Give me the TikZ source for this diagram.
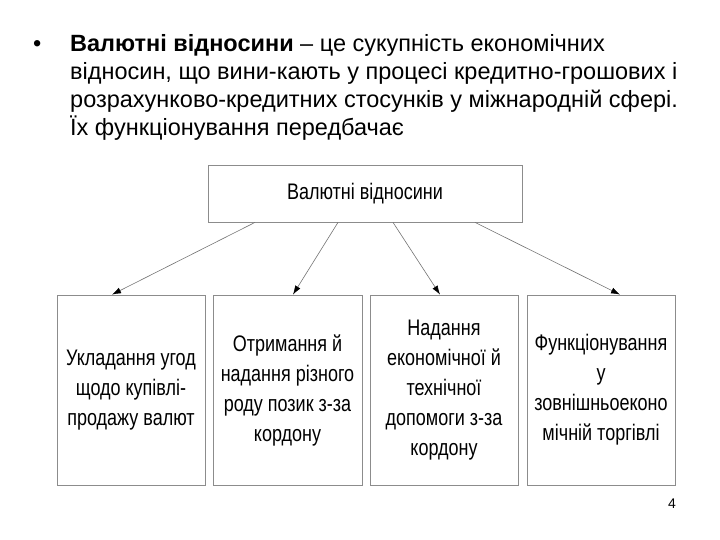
\documentclass[tikz,border=0pt]{standalone}
\usepackage{fontspec}
\usetikzlibrary{arrows.meta}
\setmainfont{Liberation Sans}
\newfontfamily\narrowf[FakeStretch=0.8]{Liberation Sans}
\begin{document}
\begin{tikzpicture}[x=1pt,y=-1pt,
  box/.style={draw=black!45,line width=0.8pt,fill=white,inner sep=0pt,align=center,font=\narrowf\fontsize{22.5}{30}\selectfont},
  arr/.style={draw=black!55,line width=0.6pt,-{Latex[length=9pt,width=6pt,black]}},
  hdr/.style={anchor=base west,inner sep=0pt,font=\fontsize{23.5}{28}\selectfont}]
\useasboundingbox (0,0) rectangle (720,540);
\node[hdr] (b) at (33,52) {•};
\node[hdr] (l1) at (70,52) {\textbf{Валютні відносини} – це сукупність економічних};
\node[hdr] (l2) at (70,80) {відносин, що вини-кають у процесі кредитно-грошових і};
\node[hdr] (l3) at (70,108) {розрахунково-кредитних стосунків у міжнародній сфері.};
\node[hdr] (l4) at (70,136) {Їх функціонування передбачає};
\node[box,minimum width=314pt,minimum height=57pt] (top) at (365,193.5) {Валютні відносини};
\node[box,minimum width=148pt,minimum height=190pt] (c1) at (131,390) {Укладання угод\\щодо купівлі-\\продажу валют};
\node[box,minimum width=149pt,minimum height=190pt] (c2) at (287.5,390) {Отримання й\\надання різного\\роду позик з-за\\кордону};
\node[box,minimum width=148pt,minimum height=190pt] (c3) at (444,390) {Надання\\економічної й\\технічної\\допомоги з-за\\кордону};
\node[box,minimum width=148pt,minimum height=190pt] (c4) at (601,390) {Функціонування\\у\\зовнішньоеконо\\мічній торгівлі};
\draw[arr] (top.south -| 255,0) -- (c1.north -| 112,0);
\draw[arr] (top.south -| 338,0) -- (c2.north -| 293,0);
\draw[arr] (top.south -| 393,0) -- (c3.north -| 440,0);
\draw[arr] (top.south -| 475,0) -- (c4.north -| 620,0);
\node[anchor=base,inner sep=0pt,font=\fontsize{14}{16}\selectfont] (pg) at (672,508) {4};
\end{tikzpicture}
\end{document}
